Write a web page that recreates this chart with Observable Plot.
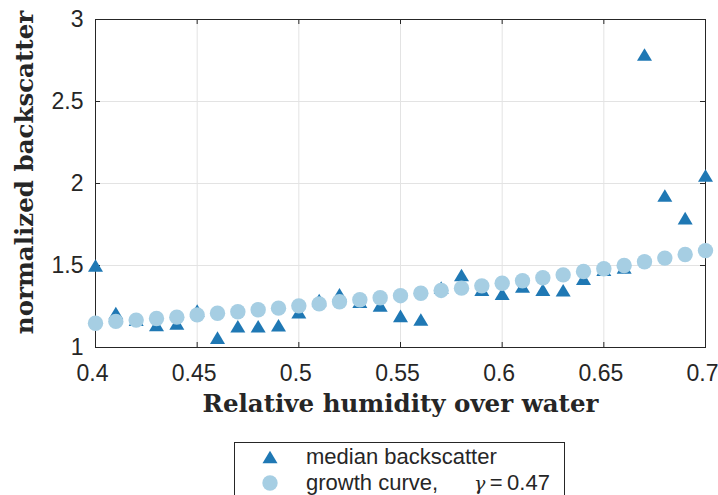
<!DOCTYPE html>
<html>
<head>
<meta charset="utf-8">
<script src="https://cdn.jsdelivr.net/npm/d3@7"></script>
<script src="https://cdn.jsdelivr.net/npm/@observablehq/plot@0.6"></script>
<style>
  html, body { margin: 0; padding: 0; background: #fff; overflow: hidden; }
  #wrap { position: relative; width: 718px; height: 495px; }
  #chart svg { overflow: visible; }
  #legend {
    position: absolute; left: 234px; top: 442px; width: 331px; height: 80px;
    border: 1px solid #262626; background: #fff; box-sizing: border-box;
    font-family: "Liberation Sans", Arial, sans-serif; font-size: 22px; color: #262626;
  }
  #legend .row { position: absolute; left: 0; height: 26px; display: flex; align-items: center; }
  #legend svg { position: absolute; left: 25px; }
  #legend .lbl { position: absolute; left: 71px; white-space: nowrap; }
</style>
</head>
<body>
<div id="wrap">
  <div id="chart"></div>
  <div id="legend"></div>
</div>
<script>
// Relative humidity bins (fraction)
const rh = [0.40, 0.41, 0.42, 0.43, 0.44, 0.45, 0.46, 0.47, 0.48, 0.49, 0.50,
            0.51, 0.52, 0.53, 0.54, 0.55, 0.56, 0.57, 0.58, 0.59, 0.60,
            0.61, 0.62, 0.63, 0.64, 0.65, 0.66, 0.67, 0.68, 0.69, 0.70];
// Median normalized backscatter per bin
const medianBackscatter = [1.50, 1.21, 1.17, 1.137, 1.146, 1.225, 1.06, 1.13, 1.13, 1.136, 1.215,
                           1.29, 1.325, 1.28, 1.257, 1.193, 1.171, 1.365, 1.442, 1.353, 1.328,
                           1.372, 1.352, 1.349, 1.42, 1.475, 1.488, 2.787, 1.927, 1.789, 2.049];
// Fitted hygroscopic growth curve
const growthCurve = [1.148, 1.159, 1.167, 1.177, 1.185, 1.199, 1.209, 1.218, 1.230, 1.240, 1.254,
                     1.266, 1.279, 1.291, 1.303, 1.316, 1.331, 1.348, 1.362, 1.376, 1.392,
                     1.407, 1.425, 1.443, 1.463, 1.480, 1.500, 1.523, 1.545, 1.567, 1.591];
const gamma = 0.47;
const xTicks = [0.4, 0.45, 0.5, 0.55, 0.6, 0.65, 0.7];
const xTickLabels = ["0.4", "0.45", "0.5", "0.55", "0.6", "0.65", "0.7"];
const yTicks = [1, 1.5, 2, 2.5, 3];
const yTickLabels = ["1", "1.5", "2", "2.5", "3"];

const rows = rh.map((x, i) => ({x, median: medianBackscatter[i], growth: growthCurve[i]}));

const darkBlue = "#1f78b4";
const lightBlue = "#a6cee3";
const axisColor = "#262626";
const gridColor = "#e3e3e3";

// Upward triangle centred on its bounding box
const triW = 15, triH = 12.6;
const triangleUp = {
  draw(context) {
    context.moveTo(0, -triH / 2);
    context.lineTo(triW / 2, triH / 2);
    context.lineTo(-triW / 2, triH / 2);
    context.closePath();
  }
};

const W = 718, H = 430;
const mL = 95, mR = 13, mT = 19, mB = 83;
const plotW = W - mL - mR, plotH = H - mT - mB;
const tickLen = 5;

const chart = Plot.plot({
  width: W, height: H,
  marginLeft: mL, marginRight: mR, marginTop: mT, marginBottom: mB,
  style: {fontFamily: "'Liberation Sans', Arial, sans-serif", background: "#fff"},
  x: {domain: [0.4, 0.7]},
  y: {domain: [1, 3]},
  marks: [
    Plot.gridX(xTicks, {stroke: gridColor, strokeOpacity: 1}),
    Plot.gridY(yTicks, {stroke: gridColor, strokeOpacity: 1}),
    // inward ticks on all four sides
    Plot.tickX(xTicks, {x: d => d, insetTop: plotH - tickLen, stroke: axisColor}),
    Plot.tickX(xTicks, {x: d => d, insetBottom: plotH - tickLen, stroke: axisColor}),
    Plot.tickY(yTicks, {y: d => d, insetRight: plotW - tickLen, stroke: axisColor}),
    Plot.tickY(yTicks, {y: d => d, insetLeft: plotW - tickLen, stroke: axisColor}),
    Plot.frame({stroke: axisColor, strokeWidth: 1}),
    Plot.axisX(xTicks, {tickSize: 0, tickPadding: 17, dx: -3, fontSize: 23, fill: axisColor,
      tickFormat: (d, i) => xTickLabels[i], label: null}),
    Plot.axisY(yTicks, {tickSize: 0, tickPadding: 12, fontSize: 23, fill: axisColor,
      tickFormat: (d, i) => yTickLabels[i], label: null}),
    Plot.dot(rows, {x: "x", y: "median", symbol: triangleUp, r: 5, fill: darkBlue, stroke: "none"}),
    Plot.dot(rows, {x: "x", y: "growth", r: 7.7, fill: lightBlue, stroke: "none"}),
    Plot.text(["Relative humidity over water"], {
      frameAnchor: "bottom", dy: 64, text: d => d,
      fontFamily: "'DejaVu Serif', serif", fontWeight: "bold", fontSize: 24.5, fill: axisColor
    }),
    Plot.text(["normalized backscatter"], {
      frameAnchor: "left", textAnchor: "middle", dx: -70, dy: -11, rotate: -90, text: d => d,
      fontFamily: "'DejaVu Serif', serif", fontWeight: "bold", fontSize: 24.5, fill: axisColor
    })
  ]
});
document.getElementById("chart").appendChild(chart);

// Legend below the axes
const legend = d3.select("#legend");
const items = [
  {symbol: "triangle", color: darkBlue, text: "median backscatter", top: 1},
  {symbol: "circle", color: lightBlue, text: null, top: 27}
];
items.forEach(it => {
  const row = legend.append("div").attr("class", "row").style("top", it.top + "px").style("width", "100%");
  const s = row.append("svg").attr("width", 20).attr("height", 26);
  if (it.symbol === "triangle") {
    s.append("path").attr("transform", "translate(10,13)")
      .attr("d", `M0,${-triH / 2}L${triW / 2},${triH / 2}L${-triW / 2},${triH / 2}Z`).attr("fill", it.color);
  } else {
    s.append("circle").attr("cx", 10).attr("cy", 13).attr("r", 7.7).attr("fill", it.color);
  }
  const lbl = row.append("span").attr("class", "lbl");
  if (it.text) {
    lbl.text(it.text);
  } else {
    lbl.append("span").text("growth curve,");
    lbl.append("span").style("display", "inline-block").style("width", "36px");
    lbl.append("span").style("font-family", "'DejaVu Serif', serif").style("font-style", "italic").style("font-size", "19px").text("γ");
    lbl.append("span").text("\u2009=\u20090.47".replace("0.47", gamma.toFixed(2)));
  }
});
</script>
</body>
</html>
